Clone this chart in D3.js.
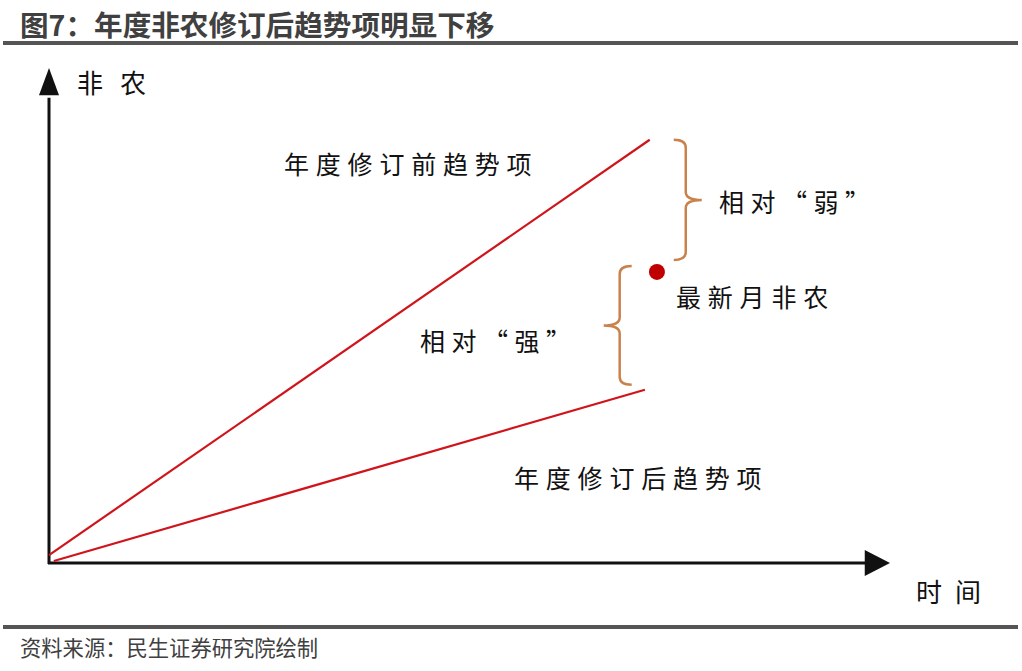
<!DOCTYPE html>
<html lang="zh">

<head>
    <meta charset="UTF-8">
    <title>图7</title>
    <script src="https://d3js.org/d3.v7.min.js"></script>
    <style>
        body { margin: 0; background: #fff; }
        svg { display: block; }
        text { font-family: "Noto Sans CJK SC", sans-serif; }
    </style>
</head>

<body>
    <svg width="1022" height="671"></svg>

    <script>
        // chart data (time 0..14, level 0..100)
        const titleText = '图7：年度非农修订后趋势项明显下移';
        const sourceText = '资料来源：民生证券研究院绘制';
        const axisLabels = ['非农', '时间'];
        const trendNames = ['年度修订前趋势项', '年度修订后趋势项'];
        const trendBefore = [{ t: 0, v: 1.6 }, { t: 10, v: 85.5 }];
        const trendAfter = [{ t: 0.08, v: 0.4 }, { t: 9.92, v: 35 }];
        const latestPoint = [{ t: 10.12, v: 58.8, name: '最新月非农' }];
        // braces: [from, to] on the level scale, t = column
        const braces = [
            { t: 10.6, from: 85.5, to: 61.2, dir: 1, name: '相对“弱”' },
            { t: 9.5, from: 60, to: 36, dir: -1, name: '相对“强”' }
        ];

        (function () {
            const svg = d3.select('svg');

            const x = d3.scaleLinear().domain([0, 14]).range([49, 890]);
            const y = d3.scaleLinear().domain([0, 100]).range([563, 68]);

            // title + rules
            svg.append('text')
                .attr('x', 20).attr('y', 36)
                .attr('font-size', 28.6).attr('font-weight', 700)
                .attr('fill', '#404040')
                .text(titleText);

            svg.append('rect').attr('x', 3).attr('y', 41).attr('width', 1015).attr('height', 4).attr('fill', '#555');
            svg.append('rect').attr('x', 3).attr('y', 625).attr('width', 1015).attr('height', 4).attr('fill', '#555');

            svg.append('text')
                .attr('x', 20).attr('y', 656)
                .attr('font-size', 21.3)
                .attr('fill', '#404040')
                .text(sourceText);

            // axes with arrow heads
            const x0 = x(0), y0 = y(0);
            svg.append('line')
                .attr('x1', x0).attr('y1', y0 + 1)
                .attr('x2', x0).attr('y2', y(94))
                .attr('stroke', '#111').attr('stroke-width', 3);
            svg.append('line')
                .attr('x1', x0 - 1).attr('y1', y0)
                .attr('x2', x(13.6)).attr('y2', y0)
                .attr('stroke', '#111').attr('stroke-width', 3);

            svg.append('path')
                .attr('d', `M${x0},${y(100)} L${x0 - 10},${y(94.5)} L${x0 + 10},${y(94.5)} Z`)
                .attr('fill', '#111');
            svg.append('path')
                .attr('d', `M${x(14)},${y0} L${x(13.58)},${y0 - 13} L${x(13.58)},${y0 + 13} Z`)
                .attr('fill', '#111');

            svg.append('text')
                .attr('x', 77).attr('y', y(97.2))
                .attr('font-size', 26).attr('letter-spacing', 17)
                .attr('dominant-baseline', 'central')
                .attr('fill', '#111')
                .text(axisLabels[0]);
            svg.append('text')
                .attr('x', 916).attr('y', y(-5.5))
                .attr('font-size', 26).attr('letter-spacing', 13)
                .attr('dominant-baseline', 'central')
                .attr('fill', '#111')
                .text(axisLabels[1]);

            // trend lines
            const line = d3.line().x(d => x(d.t)).y(d => y(d.v));
            svg.selectAll('path.trend')
                .data([trendBefore, trendAfter])
                .enter()
                .append('path')
                .attr('class', 'trend')
                .attr('d', line)
                .attr('fill', 'none')
                .attr('stroke', '#d0141b')
                .attr('stroke-width', 2.2);

            svg.append('text')
                .attr('x', 284).attr('y', 163)
                .attr('font-size', 25).attr('letter-spacing', 6.8)
                .attr('dominant-baseline', 'central')
                .attr('fill', '#111')
                .text(trendNames[0]);
            svg.append('text')
                .attr('x', 514).attr('y', 477)
                .attr('font-size', 25).attr('letter-spacing', 6.8)
                .attr('dominant-baseline', 'central')
                .attr('fill', '#111')
                .text(trendNames[1]);

            // latest point
            svg.selectAll('circle.latest')
                .data(latestPoint)
                .enter()
                .append('circle')
                .attr('class', 'latest')
                .attr('cx', d => x(d.t)).attr('cy', d => y(d.v))
                .attr('r', 8)
                .attr('fill', '#c00000');
            svg.selectAll('text.latest')
                .data(latestPoint)
                .enter()
                .append('text')
                .attr('class', 'latest')
                .attr('x', 676).attr('y', 296)
                .attr('font-size', 25).attr('letter-spacing', 6.8)
                .attr('dominant-baseline', 'central')
                .attr('fill', '#111')
                .text(d => d.name);

            // curly braces
            function bracePath(b) {
                const bx = x(b.t), ya = y(b.from), yb = y(b.to);
                const mid = (ya + yb) / 2, s = b.dir;
                const arm = 12, tip = 16, r = 8;
                const p = d3.path();
                p.moveTo(bx - s * arm, ya);
                p.quadraticCurveTo(bx, ya, bx, ya + r);
                p.lineTo(bx, mid - r);
                p.quadraticCurveTo(bx, mid, bx + s * tip, mid);
                p.moveTo(bx + s * tip, mid);
                p.quadraticCurveTo(bx, mid, bx, mid + r);
                p.lineTo(bx, yb - r);
                p.quadraticCurveTo(bx, yb, bx - s * arm, yb);
                return p.toString();
            }

            svg.selectAll('path.brace')
                .data(braces)
                .enter()
                .append('path')
                .attr('class', 'brace')
                .attr('d', bracePath)
                .attr('fill', 'none')
                .attr('stroke', '#c9824c')
                .attr('stroke-width', 2.5);

            svg.selectAll('text.brace')
                .data(braces)
                .enter()
                .append('text')
                .attr('class', 'brace')
                .attr('x', d => d.dir > 0 ? 719 : 420)
                .attr('y', d => d.dir > 0 ? 201 : 340)
                .attr('font-size', 25).attr('letter-spacing', 6.5)
                .attr('dominant-baseline', 'central')
                .attr('fill', '#111')
                .text(d => d.name);
        })();
    </script>
</body>

</html>
